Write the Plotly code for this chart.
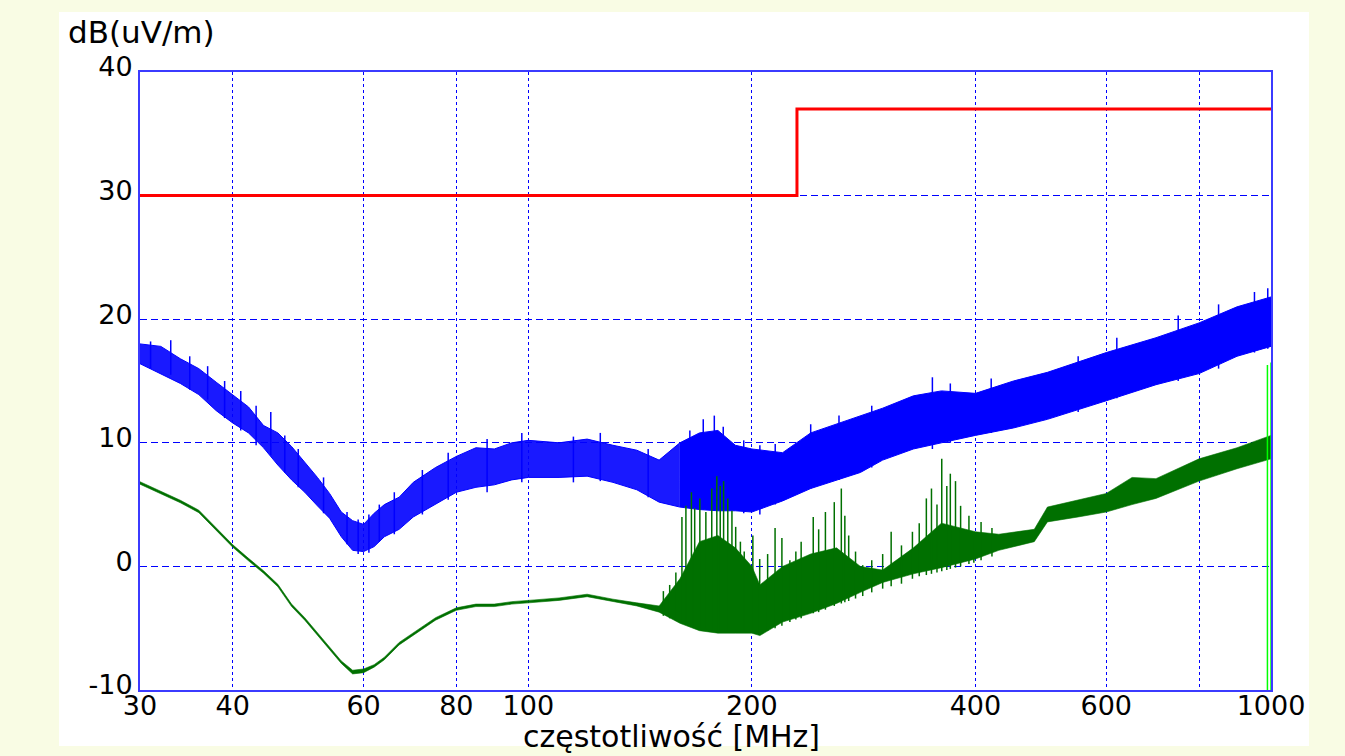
import plotly.graph_objects as go

# ---------------- data ----------------
# Limit line (red)
limit_f = [30, 230, 230, 1000]
limit_v = [30, 30, 37, 37]

# Blue trace: envelope of the noisy spectrum (MHz, dBuV/m)
blue_f = [30, 32, 34, 36, 38, 40, 42, 44, 46, 48, 50, 52, 54, 56, 58, 60, 62, 64, 67,
          70, 75, 80, 85, 90, 95, 100, 110, 120, 130, 140, 150, 160, 170, 180, 190, 200,
          220, 240, 260, 280, 300, 330, 360, 400, 450, 500, 600, 700, 800, 900, 1000]
blue_hi = [18.0, 17.8, 16.8, 16.0, 14.9, 13.9, 12.9, 11.4, 10.8, 9.7, 8.4, 7.2, 5.9, 4.4, 3.7, 3.4, 4.3, 5.0, 5.6,
           6.8, 8.0, 8.9, 9.6, 9.5, 10.0, 10.2, 10.0, 10.3, 9.8, 9.4, 8.6, 10.0, 10.8, 11.0, 9.8, 9.5,
           9.2, 10.8, 11.5, 12.2, 12.8, 13.8, 14.2, 14.0, 15.0, 15.7, 17.3, 18.5, 19.7, 21.0, 21.8]
blue_lo = [16.4, 15.6, 14.8, 13.9, 12.6, 11.6, 10.8, 9.6, 8.2, 7.0, 6.0, 4.9, 3.9, 2.4, 1.3, 1.2, 1.6, 2.4, 3.0,
           4.0, 5.0, 6.0, 6.4, 6.6, 7.0, 7.2, 7.2, 7.3, 6.8, 6.2, 5.2, 4.8, 4.6, 4.5, 4.5, 4.4,
           5.3, 6.3, 7.0, 7.6, 8.6, 9.5, 10.0, 10.6, 11.2, 11.9, 13.4, 14.7, 15.6, 17.0, 17.8]
blue_split = 31  # index of 160 MHz: left part looks hatched, right part solid

# Blue peaks (MHz, low, high)
blue_spk_f = [31, 33, 35, 37, 39, 41, 43, 45, 47, 49, 53, 57, 59, 61, 63, 66, 72, 78, 88, 98,
              115, 125, 145, 165, 172, 178, 183, 195, 205, 215, 240, 262, 290, 350, 370, 420,
              550, 620, 750, 850, 950, 990]
blue_spk_lo = [16.0, 15.5, 14.3, 13.5, 12.0, 11.0, 9.8, 9.0, 7.6, 6.4, 4.3, 1.8, 1.0, 1.1, 2.0, 2.6, 4.2, 5.4, 6.0, 6.8,
               6.8, 6.9, 5.6, 4.7, 4.6, 4.5, 4.5, 4.3, 4.2, 5.0, 6.3, 7.0, 8.0, 9.5, 10.0, 10.8,
               12.5, 13.6, 15.0, 16.0, 17.3, 17.6]
blue_spk_hi = [18.2, 18.3, 17.0, 16.2, 15.0, 14.2, 13.0, 12.5, 10.6, 9.5, 7.2, 4.4, 3.8, 4.2, 5.0, 6.0, 7.8, 9.2, 10.3, 10.8,
               10.5, 10.8, 9.5, 11.0, 11.9, 12.2, 11.3, 10.2, 9.8, 9.9, 11.5, 12.2, 13.0, 15.3, 14.8, 15.2,
               17.0, 18.5, 20.3, 21.2, 22.2, 22.5]

# Green trace: envelope
green_f = [30, 32, 34, 36, 38, 40, 42, 44, 46, 48, 50, 52, 54, 56, 58, 60, 62, 64, 67,
           70, 75, 80, 85, 90, 95, 100, 110, 120, 130, 140, 150, 160, 170, 180, 190, 200,
           205, 220, 240, 260, 280, 300, 330, 360, 400, 430, 480, 500, 550, 600, 650, 700,
           800, 900, 1000]
green_hi = [6.85, 6.05, 5.35, 4.55, 3.15, 1.75, 0.65, -0.35, -1.45, -3.05, -4.15, -5.35, -6.55, -7.65, -8.4, -8.3, -7.95, -7.35, -6.15,
            -5.35, -4.15, -3.35, -3.05, -3.05, -2.85, -2.75, -2.55, -2.25, -2.65, -2.95, -3.2, -1.0, 2.0, 2.5, 1.5, 0.0,
            -1.5, 0.0, 1.0, 1.5, 0.0, -0.3, 1.5, 3.5, 2.8, 2.6, 3.0, 4.8, 5.4, 5.9, 7.2, 7.1,
            8.7, 9.6, 10.6]
green_lo = [6.65, 5.85, 5.15, 4.35, 2.95, 1.55, 0.45, -0.55, -1.65, -3.25, -4.35, -5.55, -6.75, -7.85, -8.7, -8.6, -8.15, -7.55, -6.35,
            -5.55, -4.35, -3.55, -3.25, -3.25, -3.05, -2.95, -2.75, -2.45, -2.85, -3.2, -3.7, -4.6, -5.2, -5.4, -5.4, -5.4,
            -5.6, -4.5, -3.8, -3.0, -2.1, -1.3, -0.6, -0.1, 0.6, 1.3, 2.0, 3.6, 4.0, 4.4, 5.0, 5.5,
            6.9, 7.9, 8.7]

# Green emission peaks (MHz, base, top)
green_spk_f = [152, 155, 158, 161, 163, 165.8, 167.5, 170.2, 173.4, 176.6, 179.4, 181.3, 183.2, 185.6, 188,
               190.2, 193, 195.3, 200.6, 204.9, 210, 214.9, 219.5, 225, 229.2, 233, 241.9, 246, 251.2,
               258.2, 263.9, 266.8, 270, 275.8, 282, 290, 300, 308, 318, 329, 336, 343.5, 349, 355,
               360.3, 366, 370, 376, 382, 392, 398, 407, 421]
green_spk_lo = [-4.0, -4.2, -4.4, -4.6, -4.7, -4.8, -4.9, -5.0, -5.1, -5.2, -5.3, -5.3, -5.3, -5.3, -5.3,
                -5.3, -5.3, -5.3, -5.3, -5.5, -5.2, -5.0, -4.8, -4.5, -4.3, -4.2, -3.8, -3.7, -3.5,
                -3.2, -3.0, -2.9, -2.8, -2.6, -2.4, -2.1, -1.8, -1.6, -1.4, -1.0, -0.8, -0.7, -0.6, -0.5,
                -0.4, -0.3, -0.2, -0.1, 0.0, 0.2, 0.3, 0.5, 0.8]
green_spk_hi = [-2.0, -1.5, -0.5, 4.0, 4.9, 6.0, 4.7, 5.5, 4.4, 6.3, 7.3, 6.5, 6.9, 5.5, 4.5,
                3.2, 2.0, 1.2, 2.5, 0.6, 1.0, 3.1, 2.3, 0.5, 1.2, 2.0, 4.0, 3.0, 4.4,
                5.2, 6.3, 4.1, 2.5, 1.2, 0.1, 0.5, 1.0, 2.8, 1.7, 2.8, 3.5, 5.5, 6.3, 5.0,
                8.7, 6.5, 7.5, 6.9, 4.9, 4.1, 2.5, 3.6, 3.1]

# Bright green markers at the right edge
marker_f = [989, 1000]
marker_top = [16.3, 16.5]

x_ticks = [30, 40, 60, 80, 100, 200, 400, 600, 800, 1000]
x_ticktext = ["30", "40", "60", "80", "100", "200", "400", "600", "", "1000"]
y_ticks = [-10, 0, 10, 20, 30, 40]
y_ticktext = ["-10", "0", "10", "20", "30", "40"]

BLUE = "#0000FF"
GREEN = "#007000"
FONT = "DejaVu Sans"


def segments(fs, los, his):
    xs, ys = [], []
    for f, lo, hi in zip(fs, los, his):
        xs += [f, f, None]
        ys += [lo, hi, None]
    return xs, ys


def band(fig, f, lo, hi, color, fill, width=1):
    fig.add_trace(go.Scatter(x=f, y=lo, mode="lines", line=dict(color=color, width=width),
                             showlegend=False, hoverinfo="skip"))
    fig.add_trace(go.Scatter(x=f, y=hi, mode="lines", line=dict(color=color, width=width),
                             fill="tonexty", fillcolor=fill, showlegend=False))


fig = go.Figure()

# blue band (left part hatched-looking, right part solid)
s = blue_split
band(fig, blue_f[:s + 1], blue_lo[:s + 1], blue_hi[:s + 1], BLUE, "rgba(0,0,255,0.9)")
band(fig, blue_f[s:], blue_lo[s:], blue_hi[s:], BLUE, BLUE)
bx, by = segments(blue_spk_f, blue_spk_lo, blue_spk_hi)
fig.add_trace(go.Scatter(x=bx, y=by, mode="lines", line=dict(color=BLUE, width=1.5),
                         showlegend=False, hoverinfo="skip"))

# green band
band(fig, green_f, green_lo, green_hi, GREEN, GREEN, width=0.6)
gx, gy = segments(green_spk_f, green_spk_lo, green_spk_hi)
fig.add_trace(go.Scatter(x=gx, y=gy, mode="lines", line=dict(color=GREEN, width=1.5),
                         showlegend=False, hoverinfo="skip"))

# limit line
fig.add_trace(go.Scatter(x=limit_f, y=limit_v, mode="lines", line=dict(color="#FF0000", width=3),
                         showlegend=False))

# bright green markers
mx, my = segments(marker_f, [-10] * len(marker_f), marker_top)
fig.add_trace(go.Scatter(x=mx, y=my, mode="lines", line=dict(color="#00FF00", width=1.5),
                         showlegend=False, hoverinfo="skip"))

L, R, T, B = 140, 74, 72, 66
W, H = 1345, 756
pw, ph = W - L - R, H - T - B


def px(x):
    return (x - L) / pw


def py(y):
    return (H - B - y) / ph


BG = "#F9FCE4"

fig.update_layout(
    width=W, height=H,
    margin=dict(l=L, r=R, t=T, b=B),
    paper_bgcolor=BG,
    plot_bgcolor="#FFFFFF",
    font=dict(family=FONT, size=28, color="#000000"),
    shapes=[dict(type="rect", xref="paper", yref="paper", x0=px(59), x1=px(1309),
                 y0=py(746), y1=py(12), fillcolor="#FFFFFF", line=dict(width=0), layer="below")],
    annotations=[
        dict(text="dB(uV/m)", xref="paper", yref="paper", x=px(66), y=py(32),
             xanchor="left", yanchor="middle", showarrow=False, font=dict(size=31)),
        dict(text="częstotliwość [MHz]", xref="paper", yref="paper", x=px(671), y=py(736),
             xanchor="center", yanchor="middle", showarrow=False, font=dict(size=30)),
    ],
)

fig.update_xaxes(
    type="log", range=[1.4771212547, 3.0], tickvals=x_ticks, ticktext=x_ticktext,
    showgrid=True, gridcolor=BLUE, gridwidth=1, griddash="3px,3px",
    showline=True, linecolor="#3B3BFF", linewidth=2, mirror=True,
    ticks="", zeroline=False, tickfont=dict(size=27, family=FONT),
    ticklabelstandoff=-9,
)
fig.update_yaxes(
    range=[-10, 40], tickvals=y_ticks, ticktext=y_ticktext,
    showgrid=True, gridcolor=BLUE, gridwidth=1, griddash="7px,4px",
    showline=True, linecolor="#3B3BFF", linewidth=2, mirror=True,
    ticks="", zeroline=False, tickfont=dict(size=27, family=FONT),
    ticklabelshift=-5,
)

fig.write_html(
    "out.html",
    config={"displayModeBar": False},
    post_script="document.body.style.margin='0px';document.body.style.background='%s';" % BG,
)
